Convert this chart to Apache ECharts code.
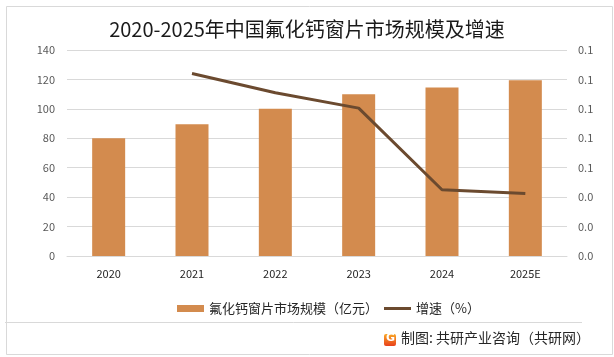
<!DOCTYPE html>
<html>
<head>
<meta charset="utf-8">
<script src="https://cdn.jsdelivr.net/npm/echarts@6/dist/echarts.min.js"></script>
<style>html,body{margin:0;padding:0;background:#fff;}#c{width:614px;height:357px;}</style>
</head>
<body>
<div id="c"></div>
<script>
var categories = ['2020', '2021', '2022', '2023', '2024', '2025E'];
var marketSize = [80, 89.5, 100, 110, 114.5, 119.5];
var growthRate = [null, 0.124, 0.111, 0.1005, 0.045, 0.0425];
var leftTicks = { min: 0, max: 140, interval: 20 };
var rightTicks = { min: 0, max: 0.14, interval: 0.02 };
var titleText = '2020-2025年中国氟化钙窗片市场规模及增速';
var barName = '氟化钙窗片市场规模（亿元）';
var lineName = '增速（%）';
var sourceText = '制图: 共研产业咨询（共研网）';

var FONT = '"Noto Sans CJK SC", "Noto Sans", sans-serif';
var chart = echarts.init(document.getElementById('c'), null, { renderer: 'canvas' });
chart.setOption({
  backgroundColor: '#fff',
  animation: false,
  textStyle: { fontFamily: FONT },
  title: {
    text: titleText, left: 'center', top: 14,
    textStyle: { fontSize: 20, fontWeight: 'normal', color: '#1a1a1a', fontFamily: FONT }
  },
  grid: { left: 67, right: 47, top: 50, bottom: 101 },
  legend: {
    left: 172, top: 297, itemGap: 6, itemWidth: 27, itemHeight: 8,
    textStyle: { fontSize: 13, color: '#262626', fontFamily: FONT },
    data: [
      { name: barName, icon: 'path://M0,0h27v7h-27z' },
      { name: lineName, icon: 'path://M0,0h27v3h-27z' }
    ]
  },
  xAxis: {
    type: 'category', data: categories,
    axisLine: { lineStyle: { color: '#d9d9d9', width: 1 } },
    axisTick: { show: false },
    axisLabel: { color: '#262626', fontSize: 11, margin: 12, fontFamily: FONT }
  },
  yAxis: [
    {
      type: 'value', min: leftTicks.min, max: leftTicks.max, interval: leftTicks.interval,
      axisLine: { show: false }, axisTick: { show: false },
      axisLabel: { color: '#595959', fontSize: 11, margin: 12, fontFamily: FONT },
      splitLine: { lineStyle: { color: '#d9d9d9', width: 1 } }
    },
    {
      type: 'value', min: rightTicks.min, max: rightTicks.max, interval: rightTicks.interval,
      axisLine: { show: false }, axisTick: { show: false },
      axisLabel: { color: '#595959', fontSize: 11, margin: 11, fontFamily: FONT,
        formatter: function (v) { return v.toFixed(1); } },
      splitLine: { show: false }
    }
  ],
  series: [
    {
      name: barName, type: 'bar', data: marketSize, barWidth: 33,
      itemStyle: { color: '#d38b4e' }
    },
    {
      name: lineName, type: 'line', yAxisIndex: 1, data: growthRate,
      showSymbol: false, symbol: 'none',
      lineStyle: { color: '#6b4a2f', width: 3 },
      itemStyle: { color: '#6b4a2f' }
    }
  ],
  graphic: [
    { type: 'rect', left: 4, top: 4, shape: { width: 606, height: 348 }, z: -1,
      style: { fill: 'none', stroke: '#d9d9d9', lineWidth: 1 } },
    { type: 'line', shape: { x1: 5, y1: 322.5, x2: 582, y2: 322.5 },
      style: { stroke: '#d9d9d9', lineWidth: 1 } },
    { type: 'rect', left: 384, top: 334, shape: { width: 12, height: 12, r: 2 },
      style: { fill: new echarts.graphic.LinearGradient(0, 0, 0, 1, [
        { offset: 0, color: '#f9a825' }, { offset: 1, color: '#e8401c' }]) } },
    { type: 'text', left: 386, top: 333,
      style: { text: 'G', fill: '#fff', font: 'bold 11px "DejaVu Sans", sans-serif' } },
    { type: 'text', left: 401, top: 331,
      style: { text: sourceText, fill: '#262626', font: '14px ' + FONT } }
  ]
});
</script>
</body>
</html>
